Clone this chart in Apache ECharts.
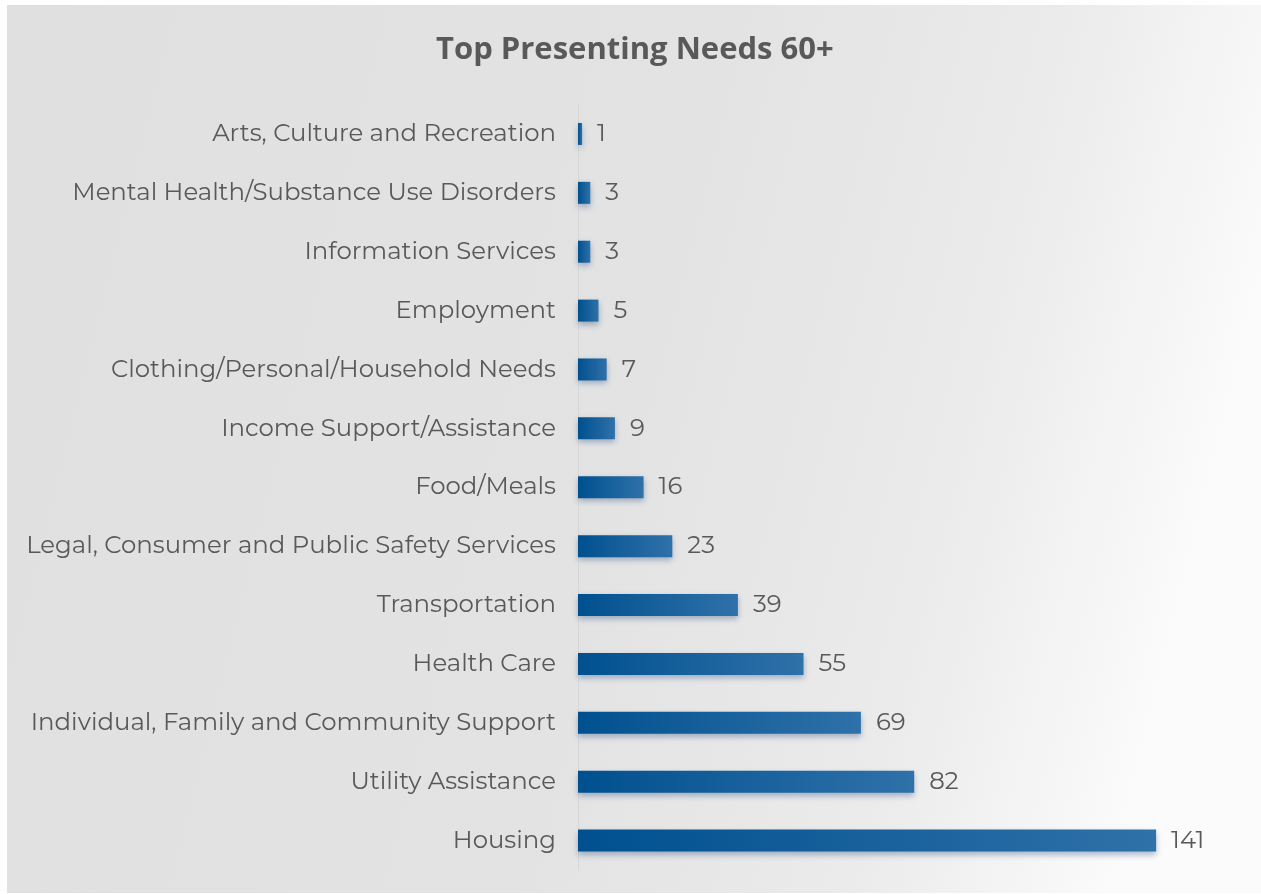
<!DOCTYPE html>
<html>
<head>
<meta charset="utf-8">
<script src="https://cdn.jsdelivr.net/npm/echarts@6/dist/echarts.min.js"></script>
<style>
  html, body { margin: 0; padding: 0; background: #ffffff; }
  #chart { width: 1261px; height: 894px; }
</style>
</head>
<body>
<div id="chart"></div>
<script>
// Presenting needs for clients aged 60+, listed top to bottom
const categories = [
  'Arts, Culture and Recreation',
  'Mental Health/Substance Use Disorders',
  'Information Services',
  'Employment',
  'Clothing/Personal/Household Needs',
  'Income Support/Assistance',
  'Food/Meals',
  'Legal, Consumer and Public Safety Services',
  'Transportation',
  'Health Care',
  'Individual, Family and Community Support',
  'Utility Assistance',
  'Housing'
];
const counts = [1, 3, 3, 5, 7, 9, 16, 23, 39, 55, 69, 82, 141];

const chart = echarts.init(document.getElementById('chart'), null, { renderer: 'canvas' });

const textColor = '#595959';
const labelFont = 'Montserrat, Lato, "Open Sans", sans-serif';

chart.setOption({
  animation: false,
  backgroundColor: '#ffffff',
  graphic: [{
    type: 'rect',
    z: -10,
    silent: true,
    shape: { x: 7, y: 5, width: 1254, height: 888 },
    style: {
      fill: new echarts.graphic.LinearGradient(0, 0, 1, 0.35, [
        { offset: 0, color: '#e0e0e0' },
        { offset: 0.55, color: '#e3e3e3' },
        { offset: 0.8, color: '#ebebeb' },
        { offset: 1, color: '#fbfbfb' }
      ])
    }
  }],
  title: {
    text: 'Top Presenting Needs 60+',
    left: 431,
    top: 30,
    textStyle: {
      fontFamily: 'Open Sans',
      fontWeight: 'bold',
      fontSize: 31,
      color: textColor
    }
  },
  grid: {
    left: 578,
    top: 104.5,
    width: 656,
    height: 765.5,
    containLabel: false
  },
  xAxis: {
    type: 'value',
    min: 0,
    max: 160,
    show: false
  },
  yAxis: {
    type: 'category',
    data: categories,
    inverse: true,
    axisLine: { show: true, lineStyle: { color: '#d6d6d6', width: 1 } },
    axisTick: { show: false },
    axisLabel: {
      margin: 22,
      fontFamily: labelFont,
      fontSize: 24.4,
      color: textColor
    }
  },
  series: [{
    type: 'bar',
    data: counts,
    barWidth: 22,
    itemStyle: {
      color: new echarts.graphic.LinearGradient(0, 0, 1, 0, [
        { offset: 0, color: '#00508f' },
        { offset: 1, color: '#2f71a9' }
      ]),
      shadowColor: 'rgba(20, 60, 120, 0.35)',
      shadowBlur: 6,
      shadowOffsetY: 3
    },
    label: {
      show: true,
      position: 'right',
      distance: 15,
      fontFamily: labelFont,
      fontSize: 24.4,
      color: textColor
    }
  }]
});
</script>
</body>
</html>
